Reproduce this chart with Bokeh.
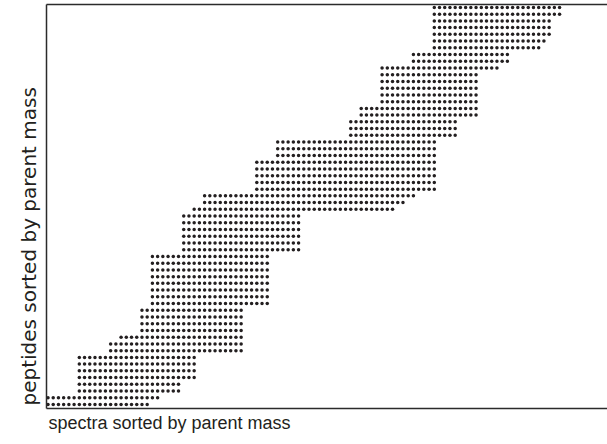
from bokeh.plotting import figure
from bokeh.models import Range1d, LinearAxis, FixedTicker, Title
from bokeh.embed import file_html
from bokeh.resources import INLINE

# First and last column index of the dots in each row (row 0 = bottom)
row_first = [0, 0, 6, 6, 6, 6, 6, 6, 12, 12, 14, 18, 18, 18, 18,
             20, 20, 20, 20, 20, 20, 20, 20, 26, 26, 26, 26, 26, 26,
             28, 30, 30, 40, 40, 40, 40, 40, 44, 44, 44, 58, 58, 58,
             60, 60, 64, 64, 64, 64, 64, 64, 70, 70, 74, 74, 74, 74, 74, 74, 74]
row_last = [19, 21, 25, 25, 28, 28, 28, 28, 37, 37, 37, 37, 37, 37, 37,
            42, 42, 42, 42, 42, 42, 42, 42, 48, 48, 48, 48, 48, 48,
            66, 68, 70, 74, 74, 74, 74, 74, 74, 74, 74, 78, 78, 78,
            82, 82, 82, 82, 82, 82, 82, 86, 88, 88, 94, 95, 96, 96, 96, 98, 98]

x_label = "spectra sorted by parent mass"
y_label = "peptides sorted by parent mass"

xs, ys = [], []
for r, (a, b) in enumerate(zip(row_first, row_last)):
    for c in range(a, b + 1):
        xs.append(c)
        ys.append(r)

p = figure(width=607, height=444,
           x_range=Range1d(-0.287, 107.18), y_range=Range1d(-0.594, 59.435),
           output_backend="svg", toolbar_location=None,
           x_axis_location=None, y_axis_location=None,
           min_border_left=46, min_border_right=0,
           min_border_top=4, min_border_bottom=36)
p.outline_line_color = None
p.grid.visible = False
p.background_fill_color = "white"
p.border_fill_color = "white"

for loc in ["left", "below", "above"]:
    ax = LinearAxis(ticker=FixedTicker(ticks=[]),
                    major_tick_line_color=None, minor_tick_line_color=None,
                    major_tick_in=0, major_tick_out=0,
                    minor_tick_in=0, minor_tick_out=0,
                    major_label_text_font_size="0px", major_label_standoff=0,
                    axis_line_color="#2b2b2b", axis_line_width=1.5)
    p.add_layout(ax, loc)

p.scatter(xs, ys, marker="circle", size=3.5,
          fill_color="#231f20", line_color=None)

p.add_layout(Title(text=x_label, align="left", offset=2, standoff=4,
                   text_font="Liberation Sans", text_font_size="18px",
                   text_font_style="normal", text_color="#231f20"), "below")
p.add_layout(Title(text=y_label, align="left", offset=3, standoff=12,
                   text_font="DejaVu Sans", text_font_size="20px",
                   text_font_style="normal", text_color="#231f20"), "left")

open("out.html", "w").write(file_html(p, INLINE))
